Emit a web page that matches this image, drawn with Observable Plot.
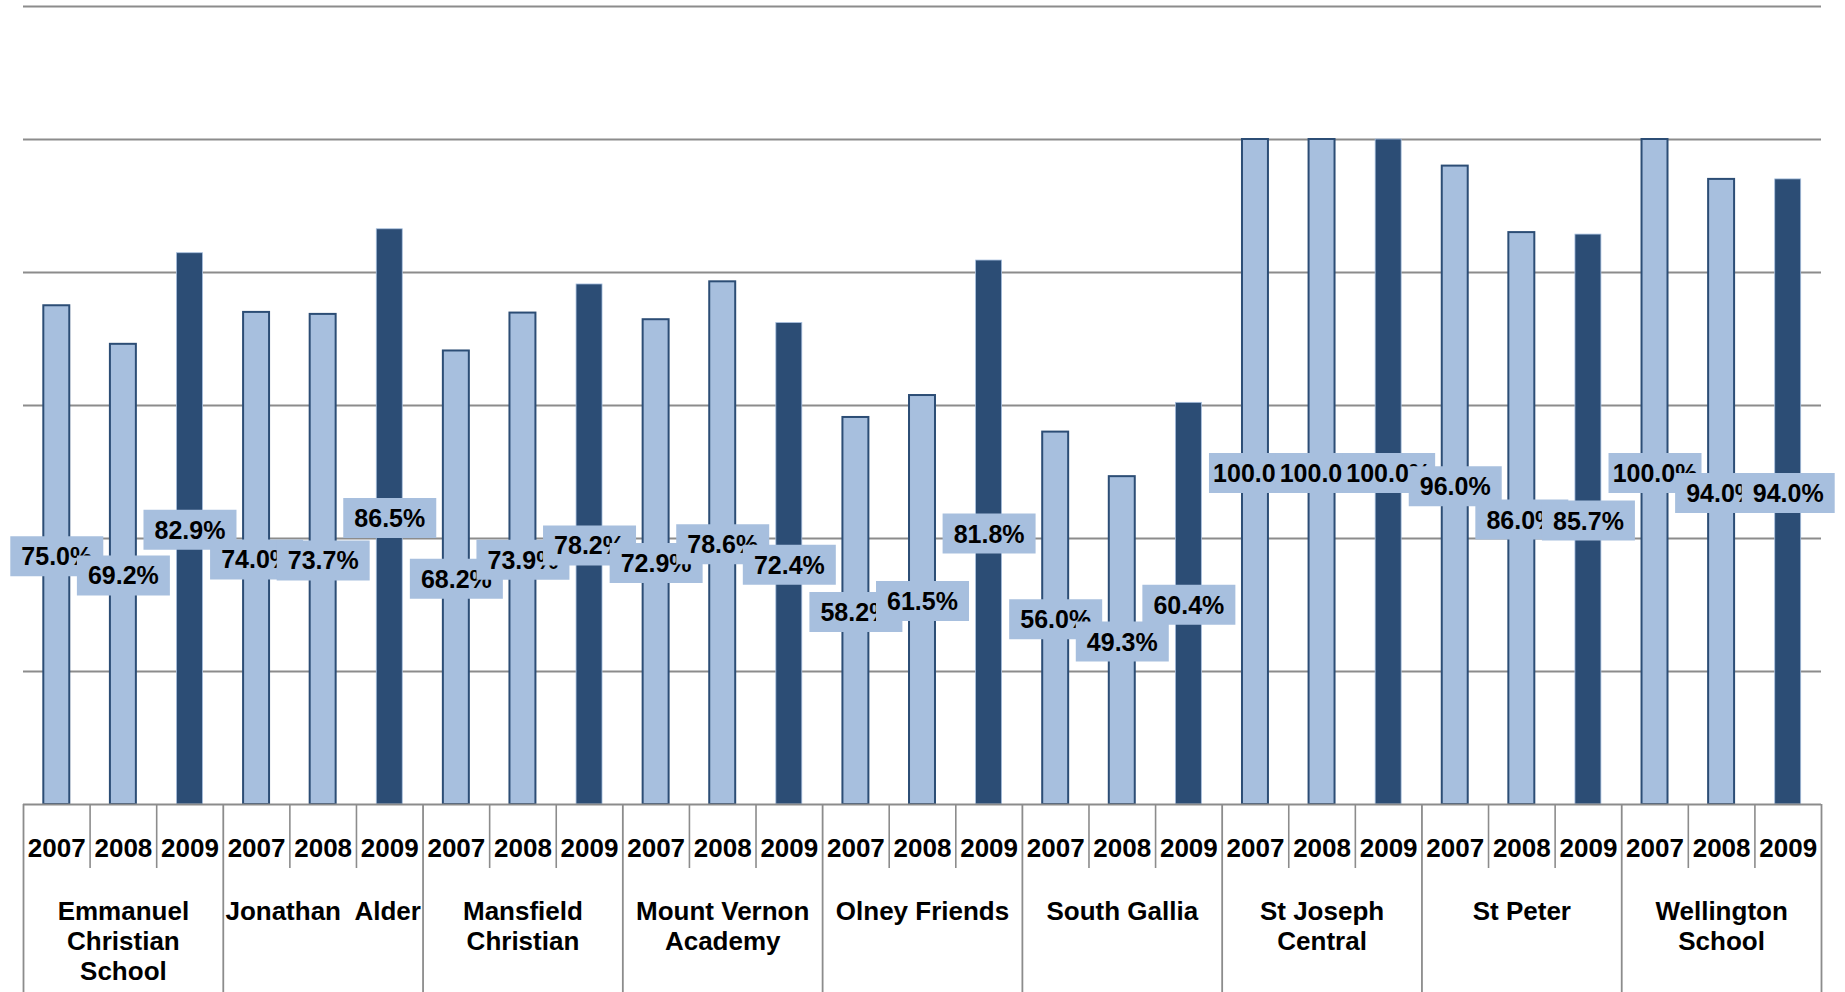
<!DOCTYPE html>
<html>
<head>
<meta charset="utf-8">
<script src="https://cdn.jsdelivr.net/npm/d3@7"></script>
<script src="https://cdn.jsdelivr.net/npm/@observablehq/plot@0.6"></script>
<style>
  html, body { margin: 0; padding: 0; background: #ffffff; }
  #chart svg { display: block; overflow: visible; }
</style>
</head>
<body>
<div id="chart"></div>
<script>
// ---- Data ----
const schools = ["Emmanuel Christian School", "Jonathan Alder", "Mansfield Christian", "Mount Vernon Academy", "Olney Friends", "South Gallia", "St Joseph Central", "St Peter", "Wellington School"];
const schoolLabels = ["Emmanuel\nChristian\nSchool", "Jonathan\u00a0 Alder", "Mansfield\nChristian", "Mount Vernon\nAcademy", "Olney Friends", "South Gallia", "St Joseph\nCentral", "St Peter", "Wellington\nSchool"];
const years = ["2007", "2008", "2009"];
const values2007 = [75.0, 74.0, 68.2, 72.9, 58.2, 56.0, 100.0, 96.0, 100.0];
const values2008 = [69.2, 73.7, 73.9, 78.6, 61.5, 49.3, 100.0, 86.0, 94.0];
const values2009 = [82.9, 86.5, 78.2, 72.4, 81.8, 60.4, 100.0, 85.7, 94.0];
const gridTicks = [20, 40, 60, 80, 100, 120];

// ---- Build table ----
const seriesByYear = {"2007": values2007, "2008": values2008, "2009": values2009};
const rows = schools.flatMap((s, i) => years.map(y => ({
  school: s, label: schoolLabels[i], year: y, key: s + "|" + y, value: seriesByYear[y][i]
})));
const keys = rows.map(d => d.key);

const W = 1845, H = 992;
const mL = 23, mR = 24, mT = 6, mB = 188;
const step = (W - mL - mR) / keys.length;
const light = "#A7BFDE", dark = "#2C4D75", grid = "#8c8c8c";
const font = "'Liberation Sans', Arial, Helvetica, sans-serif";

const labelBox = { draw(ctx) { ctx.rect(-46.5, -20, 93, 40); } };

const labelMarks = rows.flatMap(d => [
  Plot.dot([d], {x: "key", y: r => r.value / 2, r: 1, symbol: labelBox, fill: light, stroke: "none", dy: 1}),
  Plot.text([d], {x: "key", y: r => r.value / 2, text: r => r.value.toFixed(1) + "%", fontSize: 25, fontWeight: "bold", fill: "#000", dy: 2})
]);

const chart = Plot.plot({
  width: W, height: H,
  marginTop: mT, marginBottom: mB, marginLeft: mL, marginRight: mR,
  style: {fontFamily: font, background: "#fff", overflow: "visible"},
  x: {domain: keys, paddingInner: 0.61, paddingOuter: 0.305, round: false, axis: null},
  y: {domain: [0, 120], axis: null},
  marks: [
    Plot.ruleY(gridTicks, {stroke: grid, strokeWidth: 1.8}),
    Plot.barY(rows, {
      x: "key", y: "value",
      fill: d => d.year === "2009" ? dark : light,
      stroke: d => d.year === "2009" ? light : dark,
      strokeWidth: d => d.year === "2009" ? 0.8 : 2
    }),
    Plot.ruleY([0], {stroke: grid, strokeWidth: 2}),
    // year separators (short)
    Plot.ruleX(rows.filter(d => d.year !== "2007"), {x: "key", dx: -step / 2, stroke: grid, strokeWidth: 1.6, insetTop: H - mT - mB, insetBottom: -64}),
    // school separators (full height of table)
    Plot.ruleX(rows.filter(d => d.year === "2007"), {x: "key", dx: -step / 2, stroke: grid, strokeWidth: 1.8, insetTop: H - mT - mB, insetBottom: -mB}),
    Plot.ruleX(rows.slice(-1), {x: "key", dx: step / 2, stroke: grid, strokeWidth: 1.8, insetTop: H - mT - mB, insetBottom: -mB}),
    // year tick labels
    Plot.text(rows, {x: "key", text: "year", frameAnchor: "bottom", dy: 52, fontSize: 26, fontWeight: "bold", fill: "#000"}),
    // school labels
    Plot.text(rows.filter(d => d.year === "2008"), {x: "key", text: "label", frameAnchor: "bottom", lineAnchor: "top", dy: 94, lineHeight: 1.16, fontSize: 26, fontWeight: "bold", fill: "#000"}),
    ...labelMarks
  ]
});
document.getElementById("chart").appendChild(chart);
</script>
</body>
</html>
